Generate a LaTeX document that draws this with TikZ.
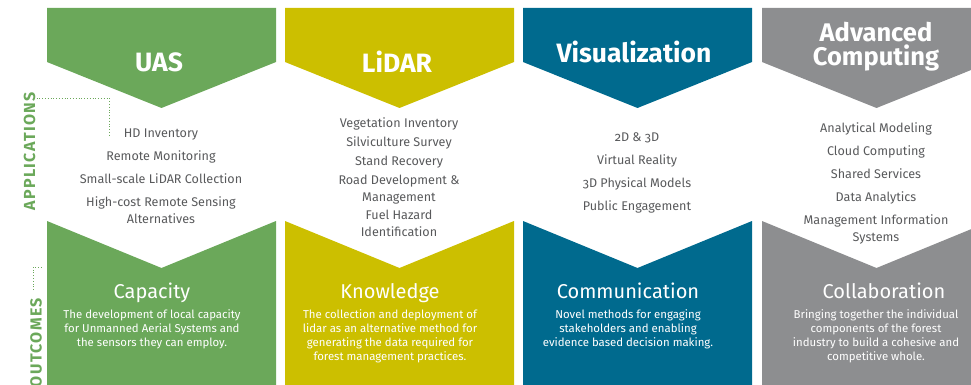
\documentclass[tikz,border=0pt]{standalone}
\usepackage{fontspec}
\setmainfont{Fira Sans}[Numbers=OldStyle]
\newfontfamily\sidefont{Fira Sans}[LetterSpace=8.5]
\usetikzlibrary{positioning}
\definecolor{uasgreen}{HTML}{6BA85A}
\definecolor{lidaryellow}{HTML}{CCBF00}
\definecolor{visblue}{HTML}{006A8E}
\definecolor{compgrey}{HTML}{8D8E90}
\definecolor{txtgrey}{HTML}{58595B}

\begin{document}
\begin{tikzpicture}[x=1pt,y=-1pt,
  title/.style={text=white,font=\fontsize{26.5}{23}\selectfont\bfseries,align=center},
  applist/.style={text=txtgrey,font=\fontsize{12.6}{17}\selectfont,align=center},
  outtitle/.style={text=white,font=\fontsize{20}{24}\selectfont,inner sep=0pt,
    text height=15pt,text depth=4pt,anchor=base},
  outtext/.style={text=white,font=\fontsize{11.4}{14}\selectfont,align=center,inner sep=0pt},
  sidelabel/.style={rotate=90,anchor=east,inner sep=0pt,text=uasgreen,
    font=\sidefont\fontsize{16}{16}\selectfont\bfseries},
  guide/.style={draw=uasgreen,dotted,line width=0.8pt}]

  \useasboundingbox (0,0) rectangle (971,385);
  \clip (0,0) rectangle (971,385);

  % the four chevron columns
  \foreach \x/\c in {47/uasgreen,285/lidaryellow,523/visblue,762/compgrey}{
    \fill[\c] (\x,8) -- ++(229,0) -- ++(0,54) -- ++(-114.5,46) -- ++(-114.5,-46) -- cycle;
    \fill[\c] (\x,221) -- ++(114.5,47) -- ++(114.5,-47) -- (\x+229,385) -- (\x,385) -- cycle;
  }

  % headings
  \node[title] (uas)   at (159,62) {UAS};
  \node[title] (lidar) at (397,62) {LiDAR};
  \node[title] (vis)   at (634,52) {Visualization};
  \node[title,font=\fontsize{25.5}{24}\selectfont\bfseries] (comp) at (876,47) {Advanced\\Computing};

  % applications
  \node[applist] (app1) at (161,176) {HD Inventory\\[6pt] Remote Monitoring\\[6pt]
    Small-scale LiDAR Collection\\[6pt] High-cost Remote Sensing\\Alternatives};
  \node[applist] (app2) at (399,177) {Vegetation Inventory\\[2pt] Silviculture Survey\\[2pt]
    Stand Recovery\\[2pt] Road Development \&\\Management\\[1pt] Fuel Hazard\\Identification};
  \node[applist] (app3) at (637,172.5) {2D \& 3D\\[6pt] Virtual Reality\\[6pt]
    3D Physical Models\\[6pt] Public Engagement};
  \node[applist] (app4) at (876,183) {Analytical Modeling\\[6pt] Cloud Computing\\[6pt]
    Shared Services\\[6pt] Data Analytics\\[6pt] Management Information\\Systems};

  % outcomes
  \node[outtitle] (cap)  at (152,298) {Capacity};
  \node[outtitle] (know) at (390,298) {Knowledge};
  \node[outtitle] (comm) at (628,298) {Communication};
  \node[outtitle] (coll) at (884,298) {Collaboration};

  \node[outtext,below=7.5pt of cap]  (capd)  {The development of local capacity\\for Unmanned Aerial Systems and\\the sensors they can employ.};
  \node[outtext,below=7.5pt of know] (knowd) {The collection and deployment of\\lidar as an alternative method for\\generating the data required for\\forest management practices.};
  \node[outtext,below=7.5pt of comm] (commd) {Novel methods for engaging\\stakeholders and enabling\\evidence based decision making.};
  \node[outtext,below=7.5pt of coll,xshift=-8pt] (colld) {Bringing together the individual\\components of the forest\\industry to build a cohesive and\\competitive whole.};

  % side labels
  \node[sidelabel] (applab) at (29.5,92) {APPLICATIONS};
  \node[sidelabel] (outlab) at (36,298) {OUTCOMES};

  \coordinate (append) at (109,135);
  \coordinate (outtick) at (42,267);
  \draw[guide] ([shift={(1,6)}]applab.south east) -| (append);
  \draw[guide] ([shift={(-3,-8)}]outlab.east) |- (outtick);
\end{tikzpicture}
\end{document}
